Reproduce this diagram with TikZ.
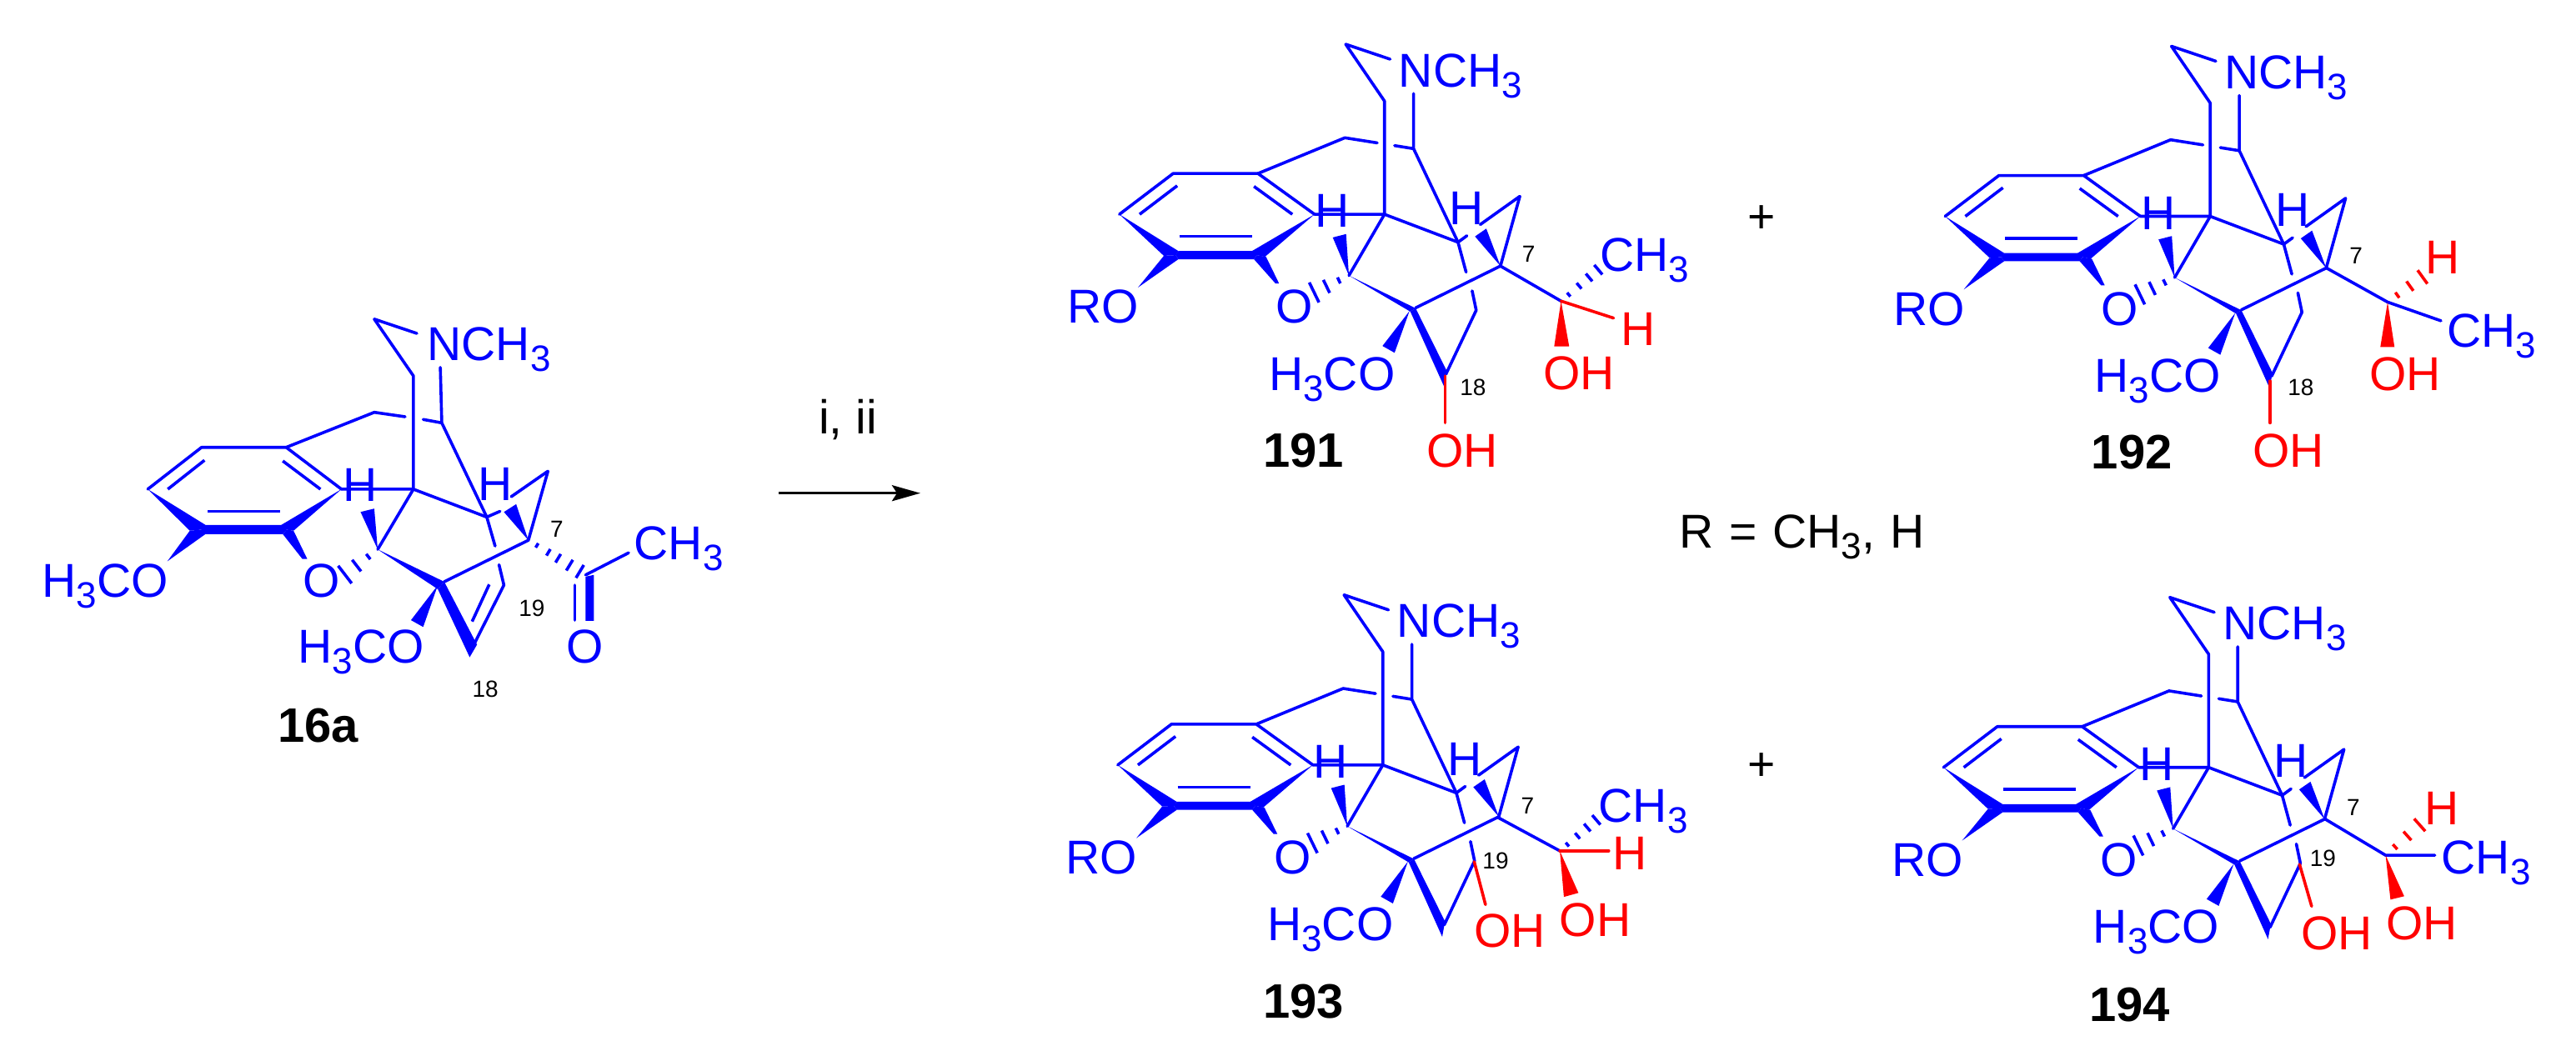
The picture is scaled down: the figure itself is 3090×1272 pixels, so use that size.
\documentclass[tikz,border=0pt]{standalone}
\usepackage{fontspec}
\setmainfont{Liberation Sans}
\usetikzlibrary{calc,arrows.meta}
\definecolor{bondblue}{RGB}{0,0,255}
\definecolor{bondred}{RGB}{255,0,0}
\newcommand\subthree{\raisebox{-13pt}{\fontsize{44}{44}\selectfont 3}}
\tikzset{
 wide/.style n args={2}{shift={(#1pt,-#2pt)},x=0.4847pt,y=-0.40816pt},
 tall/.style n args={2}{shift={(#1pt,-#2pt)},x=0.4847pt,y=-0.40306pt},
 first/.style={shift={(0pt,-300pt)},x=0.58685pt,y=-0.40816pt},
 bond/.style={bondblue,line width=3.6pt,line cap=round,line join=round},
 redbond/.style={bondred,line width=3.6pt,line cap=round},
 inner/.style={bondblue,line width=3.6pt},
 wedge/.style={fill=bondblue,draw=none},
 redwedge/.style={fill=bondred,draw=none},
 atom/.style={text=bondblue,inner sep=0pt,font=\fontsize{57}{57}\selectfont},
 redatom/.style={atom,text=bondred},
 numlabel/.style={text=black,inner sep=0pt,font=\fontsize{28}{28}\selectfont},
 cmpd/.style={text=black,inner sep=0pt,font=\fontsize{58}{58}\selectfont\bfseries},
 plain/.style={text=black,inner sep=0pt,font=\fontsize{57}{57}\selectfont},
}
% hashed bond: #1 style, #2 start, #3 end, #4 list t/halfwidth
\newcommand\hashbond[4]{\foreach \t/\w in {#4}{\draw[#1,line cap=butt] ($(#2)!\t!(#3)!\w pt!90:(#3)$) -- ($(#2)!\t!(#3)!\w pt!-90:(#3)$);}}
% common skeleton of the products; #1 = name prefix
\newcommand\core[1]{%
 \coordinate (#1r1) at (345,510);
 \coordinate (#1r2) at (555,510);
 \coordinate (#1r3) at (695,630);
 \coordinate (#1r6) at (212,630);
 \coordinate (#1c1) at (770,405);
 \coordinate (#1c2) at (850,420);
 \coordinate (#1c3) at (893,428);
 \coordinate (#1c4) at (940,437);
 \coordinate (#1n1) at (868,297);
 \coordinate (#1n2) at (772,130);
 \coordinate (#1n3) at (882,174);
 \coordinate (#1n4) at (940,275);
 \coordinate (#1q) at (868,630);
 \coordinate (#1p) at (1050,712);
 \coordinate (#1k) at (780,810);
 \coordinate (#1m) at (945,905);
 \coordinate (#1s) at (1155,782);
 \coordinate (#1t) at (1203,577);
 \coordinate (#1u) at (1105,660);
 \coordinate (#1v) at (1070,800);
 \coordinate (#1w) at (1085,855);
 \coordinate (#1x) at (1095,912);
 \coordinate (#1y) at (1018,1105);
 \coordinate (#1z) at (1072,693);
 \coordinate (#1oe) at (681,867);
 \draw[bond] (#1r6) -- (#1r1) -- (#1r2) -- (#1r3);
 \draw[inner] (262,630) -- (355,546);
 \draw[inner] (545,548) -- (640,630);
 \draw[inner] (360,695) -- (540,695);
 \fill[wedge] (#1r6) -- (358,738) -- (352,750) -- (322,752) -- cycle;
 \fill[wedge] (358,738) -- (545,738) -- (552,750) -- (545,762) -- (358,762) -- (351,750) -- cycle;
 \fill[wedge] (#1r3) -- (572,755) -- (552,750) -- (540,738) -- cycle;
 \fill[wedge] (258,845) -- (322,752) -- (351,750) -- (358,762) -- cycle;
 \fill[wedge] (607,833) -- (598,833) -- (545,762) -- (552,750) -- (575,755) -- cycle;
 \draw[bond] (#1r2) -- (#1c1) -- (#1c2);
 \draw[bond] (#1c3) -- (#1c4);
 \draw[bond] (#1n3) -- (#1n2) -- (#1n1) -- (#1q);
 \draw[bond] (#1n4) -- (#1c4) -- (#1p);
 \draw[bond] (#1r3) -- (#1q) -- (#1p);
 \draw[bond] (#1q) -- (#1k);
 \fill[wedge] (#1k) -- (740,698) -- (773,688) -- cycle;
 \hashbond{bond}{#1k}{#1oe}{.25/4,.56/8.7,.87/13.3}
 \fill[wedge] (#1k) -- (932,916) -- (945,906) -- cycle;
 \draw[bond] (#1m) -- (#1s) -- (#1t) -- (#1u);
 \fill[wedge] (#1s) -- (1092,695) -- (1120,672) -- cycle;
 \draw[bond] (#1p) -- (#1v);
 \draw[bond] (#1p) -- (#1z);
 \draw[bond] (#1w) -- (#1x);
 \draw[bond] (#1x) -- (1020,1100);
 \fill[wedge] (932,916) -- (945,906) -- (1022,1090) -- (1015,1135) -- cycle;
 \fill[wedge] (930,914) -- (863,1017) -- (893,1037) -- cycle;
 \node[atom,anchor=base west] (#1nme) at (903,255) {NCH\subthree};
 \node[atom,anchor=base] (#1ro) at (172,950) {RO};
 \node[atom,anchor=base] (#1o) at (645,950) {O};
 \node[atom,anchor=base west] (#1ome) at (582,1147) {H\subthree CO};
 \node[atom,anchor=base] (#1h) at (739,668) {H};
 \node[atom,anchor=base] (#1hb) at (1071,660) {H};
}
\begin{document}
\begin{tikzpicture}[x=1pt,y=1pt]
\useasboundingbox (0,0) rectangle (3090,-1272);
\fill[white] (0,0) rectangle (3090,-1272);
% ---------- 16a
\begin{scope}[first]
 \coordinate (ar1) at (412,580);
 \coordinate (ar2) at (585,580);
 \coordinate (ar3) at (698,703);
 \coordinate (ar6) at (302,703);
 \coordinate (ac1) at (765,477);
 \coordinate (ac2) at (828,490);
 \coordinate (ac3) at (865,498);
 \coordinate (ac4) at (903,508);
 \coordinate (an1) at (845,370);
 \coordinate (an2) at (765,203);
 \coordinate (an3) at (852,245);
 \coordinate (an4) at (900,345);
 \coordinate (aq) at (845,703);
 \coordinate (ap) at (995,785);
 \coordinate (ak) at (772,880);
 \coordinate (am) at (908,975);
 \coordinate (as) at (1080,853);
 \coordinate (at) at (1120,650);
 \coordinate (au) at (1045,725);
 \coordinate (av) at (1012,870);
 \coordinate (aw) at (1020,925);
 \coordinate (ax) at (1030,985);
 \coordinate (ay) at (965,1170);
 \coordinate (az) at (1022,768);
 \coordinate (aoe) at (695,965);
 \coordinate (aco) at (1197,955);
 \coordinate (ame) at (1285,890);
 \coordinate (aco2) at (1175,985);
 \coordinate (aco3) at (1175,1088);
 \draw[bond] (ar6) -- (ar1) -- (ar2) -- (ar3);
 \draw[inner] (343,703) -- (418,618);
 \draw[inner] (578,620) -- (655,703);
 \draw[inner] (425,768) -- (572,768);
 \fill[wedge] (ar6) -- (420,808) -- (411,822) -- (388,825) -- cycle;
 \fill[wedge] (418,808) -- (578,808) -- (586,822) -- (578,835) -- (418,835) -- (411,822) -- cycle;
 \fill[wedge] (ar3) -- (600,825) -- (586,822) -- (575,808) -- cycle;
 \fill[wedge] (342,915) -- (388,825) -- (411,822) -- (420,835) -- cycle;
 \fill[wedge] (628,908) -- (618,908) -- (578,835) -- (586,822) -- (600,825) -- cycle;
 \draw[bond] (ar2) -- (ac1) -- (ac2);
 \draw[bond] (ac3) -- (ac4);
 \draw[bond] (an3) -- (an2) -- (an1) -- (aq);
 \draw[bond] (an4) -- (ac4) -- (ap);
 \draw[bond] (ar3) -- (aq) -- (ap);
 \draw[bond] (aq) -- (ak);
 \fill[wedge] (ak) -- (737,770) -- (765,760) -- cycle;
 \hashbond{bond}{ak}{aoe}{.25/4,.56/8.7,.87/13.3}
 \fill[wedge] (ak) -- (895,997) -- (908,975) -- cycle;
 \draw[bond] (am) -- (as) -- (at) -- (au);
 \fill[wedge] (as) -- (1030,770) -- (1055,747) -- cycle;
 \draw[bond] (ap) -- (av);
 \draw[bond] (ap) -- (az);
 \draw[bond] (aw) -- (ax) -- (ay);
 \draw[inner] (1000,983) -- (965,1092);
 \fill[wedge] (895,997) -- (908,975) -- (975,1160) -- (960,1197) -- cycle;
 \fill[wedge] (895,985) -- (840,1088) -- (865,1108) -- cycle;
 \hashbond{bond}{as}{aco}{.15/3,.35/4.5,.52/6,.72/7.5,.9/9}
 \draw[bond] (aco) -- (ame);
 \draw[bond] (aco2) -- (aco3);
 \fill[wedge] (1197,960) -- (1214,955) -- (1214,1090) -- (1197,1090) -- cycle;
 \node[atom,anchor=base west] (anme) at (873,325) {NCH\subthree};
 \node[atom,anchor=base west] (aome1) at (86,1020) {H\subthree CO};
 \node[atom,anchor=base] (ao) at (658,1020) {O};
 \node[atom,anchor=base west] (aome2) at (609,1215) {H\subthree CO};
 \node[atom,anchor=base] (ao2) at (1195,1215) {O};
 \node[atom,anchor=base west] (ach) at (1296,910) {CH\subthree};
 \node[atom,anchor=base] (ah1) at (737,738) {H};
 \node[atom,anchor=base] (ah2) at (1013,735) {H};
 \node[numlabel] (a7) at (1138,820) {7};
 \node[numlabel] (a19) at (1087,1053) {19};
 \node[numlabel] (a18) at (992,1290) {18};
 \node[cmpd] (acp) at (650,1398) {16a};
\end{scope}
% ---------- arrow
\coordinate (arrowstart) at (934,-591.7);
\coordinate (arrowend) at (1104,-591.7);
\draw[line width=3.4pt,-{Stealth[length=34pt,width=19pt,inset=6pt]}] (arrowstart) -- (arrowend);
\node[plain,anchor=base] (cond) at (1017,-520) {i, ii};
% ---------- 191
\begin{scope}[wide={1240}{0}]
 \core{b}
 \coordinate (bsc) at (1305,885);
 \coordinate (bhe) at (1435,935);
 \coordinate (bhs) at (1400,790);
 \coordinate (boh) at (1018,1243);
 \draw[bond] (bs) -- (bsc);
 \hashbond{bond}{bsc}{bhs}{.2/3,.47/4.5,.73/6,.97/7.5}
 \draw[redbond] (bsc) -- (bhe);
 \draw[redbond] (by) -- (boh);
 \fill[redwedge] (bsc) -- (1288,1018) -- (1325,1018) -- cycle;
 \node[redatom,anchor=base] (bH) at (1495,1015) {H};
 \node[redatom,anchor=base] (bOH) at (1350,1145) {OH};
 \node[redatom,anchor=base] (bOHb) at (1060,1373) {OH};
 \node[atom,anchor=base west] (bch) at (1401,798) {CH\subthree};
 \node[numlabel] (b7) at (1225,748) {7};
 \node[numlabel] (b18) at (1087,1138) {18};
 \node[cmpd] (bcp) at (668,1325) {191};
\end{scope}
% ---------- 192
\begin{scope}[wide={2230.5}{2.4}]
 \core{c}
\end{scope}
\begin{scope}[wide={2310}{0}]
 \coordinate (cs2) at (992,788);
 \coordinate (csc) at (1143,888);
 \coordinate (cme) at (1275,943);
 \coordinate (chs) at (1232,812);
 \coordinate (coh) at (852,1243);
 \coordinate (cyy) at (852,1120);
 \draw[bond] (cs2) -- (csc) -- (cme);
 \hashbond{redbond}{csc}{chs}{.27/4,.62/7,.97/10}
 \draw[redbond] (cyy) -- (coh);
 \fill[redwedge] (csc) -- (1125,1020) -- (1160,1020) -- cycle;
 \node[redatom,anchor=base] (cH) at (1280,805) {H};
 \node[redatom,anchor=base] (cOH) at (1187,1147) {OH};
 \node[redatom,anchor=base] (cOHb) at (897,1373) {OH};
 \node[atom,anchor=base west] (cch) at (1290,1020) {CH\subthree};
 \node[numlabel] (c7) at (1065,752) {7};
 \node[numlabel] (c18) at (928,1140) {18};
 \node[cmpd] (ccp) at (510,1328) {192};
\end{scope}
% ---------- 193
\begin{scope}[wide={1238}{660.7}]
 \core{d}
\end{scope}
\begin{scope}[tall={1240}{640}]
 \coordinate (ds2) at (1148,845);
 \coordinate (dsc) at (1302,945);
 \coordinate (dhe) at (1423,945);
 \coordinate (dhs) at (1395,850);
 \coordinate (d19) at (1090,977);
 \coordinate (doh) at (1118,1105);
 \draw[bond] (ds2) -- (dsc);
 \hashbond{bond}{dsc}{dhs}{.2/3,.47/4.5,.73/6,.97/7.5}
 \draw[redbond] (dsc) -- (dhe);
 \draw[redbond] (d19) -- (doh);
 \fill[redwedge] (dsc) -- (1312,1082) -- (1348,1070) -- cycle;
 \node[redatom,anchor=base] (dH) at (1475,1002) {H};
 \node[redatom,anchor=base] (dOH) at (1390,1200) {OH};
 \node[redatom,anchor=base] (dOHb) at (1178,1232) {OH};
 \node[atom,anchor=base west] (dch) at (1398,860) {CH\subthree};
 \node[numlabel] (d7) at (1222,810) {7};
 \node[numlabel] (d19l) at (1143,975) {19};
 \node[cmpd] (dcp) at (668,1393) {193};
\end{scope}
% ---------- 194
\begin{scope}[wide={2228.6}{663.6}]
 \core{e}
\end{scope}
\begin{scope}[tall={2310}{640}]
 \coordinate (es2) at (988,850);
 \coordinate (esc) at (1138,958);
 \coordinate (eme) at (1260,958);
 \coordinate (ehs) at (1225,865);
 \coordinate (e19) at (925,985);
 \coordinate (eoh) at (955,1110);
 \draw[bond] (es2) -- (esc) -- (eme);
 \hashbond{redbond}{esc}{ehs}{.27/4,.62/7,.97/10}
 \draw[redbond] (e19) -- (eoh);
 \fill[redwedge] (esc) -- (1150,1090) -- (1184,1080) -- cycle;
 \node[redatom,anchor=base] (eH) at (1277,868) {H};
 \node[redatom,anchor=base] (eOH) at (1228,1210) {OH};
 \node[redatom,anchor=base] (eOHb) at (1017,1238) {OH};
 \node[atom,anchor=base west] (ech) at (1276,1013) {CH\subthree};
 \node[numlabel] (e7) at (1058,815) {7};
 \node[numlabel] (e19l) at (983,968) {19};
 \node[cmpd] (ecp) at (505,1403) {194};
\end{scope}
% ---------- free text
\node[plain,anchor=center] (plusa) at (2113,-263.5) {+};
\node[plain,anchor=center] (plusb) at (2113,-920) {+};
\node[plain,anchor=base west] (rdef) at (2014,-657) {R \kern3pt= \kern3pt CH\subthree, \kern3pt H};
\end{tikzpicture}
\end{document}
